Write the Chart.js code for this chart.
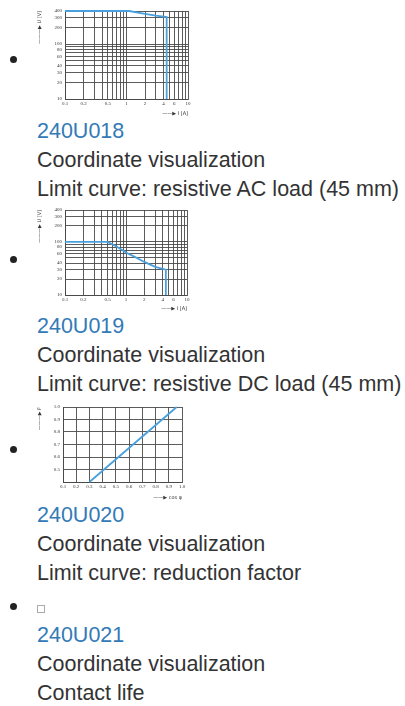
<!DOCTYPE html>
<html>
<head>
<meta charset="utf-8">
<script src="https://cdn.jsdelivr.net/npm/chart.js@4/dist/chart.umd.min.js"></script>
<style>
  body { margin: 0; background: #fff; font-family: "Liberation Sans", Arial, sans-serif; color: #333; }
  ul { list-style: none; margin: 0; padding: 0; }
  li { position: relative; padding-left: 37px; }
  .dot { position: absolute; left: 9.5px; width: 7px; height: 7px; border-radius: 50%; background: #222; }
  .pic { position: relative; }
  .pic canvas { display: block; }
  .line { font-size: 21.5px; line-height: 29px; height: 29px; white-space: nowrap; }
  .code { color: #337ab7; }
  .broken { position: absolute; left: 0; top: 17px; width: 6px; height: 6px; border: 1px solid #aaa; }
</style>
</head>
<body>
<ul>
  <li>
    <span class="dot" style="top:56px"></span>
    <div class="pic" style="height:117px"><canvas id="c1" width="158" height="117"></canvas></div>
    <div class="line code" id="code0"></div>
    <div class="line" id="kind0"></div>
    <div class="line" id="desc0"></div>
  </li>
  <li>
    <span class="dot" style="top:52px"></span>
    <div class="pic" style="height:108px"><canvas id="c2" width="158" height="108"></canvas></div>
    <div class="line code" id="code1"></div>
    <div class="line" id="kind1"></div>
    <div class="line" id="desc1"></div>
  </li>
  <li>
    <span class="dot" style="top:47px"></span>
    <div class="pic" style="height:102px"><canvas id="c3" width="158" height="102"></canvas></div>
    <div class="line code" id="code2"></div>
    <div class="line" id="kind2"></div>
    <div class="line" id="desc2"></div>
  </li>
  <li>
    <span class="dot" style="top:15px"></span>
    <div class="pic" style="height:33px"><span class="broken"></span></div>
    <div class="line code" id="code3"></div>
    <div class="line" id="kind3"></div>
    <div class="line" id="desc3"></div>
  </li>
</ul>
<script>
// texts under each picture
const codes = ['240U018', '240U019', '240U020', '240U021'];
const kinds = ['Coordinate visualization', 'Coordinate visualization', 'Coordinate visualization', 'Coordinate visualization'];
const descs = ['Limit curve: resistive AC load (45 mm)', 'Limit curve: resistive DC load (45 mm)', 'Limit curve: reduction factor', 'Contact life'];

// limit curve, AC load: current (A) / voltage (V)
const acCurrent = [0.1, 1.1, 2, 3, 4.5, 4.5];
const acVoltage = [400, 400, 355, 330, 310, 10];

// limit curve, DC load
const dcCurrent = [0.1, 0.5, 0.7, 1, 1.5, 2, 3, 4.5, 4.5];
const dcVoltage = [100, 100, 82, 63, 50, 42, 34, 30, 10];

// reduction factor F against cos phi
const cosPhi = [0.3, 0.96];
const factorF = [0.4, 1.0];

// tick labels
const logXLabels = ['0.1', '0.2', '0.5', '1', '2', '4', '6', '10'];
const logYLabels = ['10', '20', '30', '40', '60', '80', '100', '200', '300', '400'];
const linXLabels = ['0.1', '0.2', '0.3', '0.4', '0.5', '0.6', '0.7', '0.8', '0.9', '1.0'];
const linYLabels = ['0.5', '0.6', '0.7', '0.8', '0.9', '1.0'];

for (let i = 0; i < codes.length; i++) {
  document.getElementById('code' + i).textContent = codes[i];
  document.getElementById('kind' + i).textContent = kinds[i];
  document.getElementById('desc' + i).textContent = descs[i];
}

const lineBlue = 'rgb(72,160,222)';
const gridCol = '#4a4a4a';
const tickFont = { family: 'Liberation Serif', size: 5 };
const titleFont = { family: 'DejaVu Sans', size: 5 };

// grid values of log paper: 1..9 x 10^n
function logGrid(from, to) {
  const out = [];
  for (let d = from; d < to; d *= 10) {
    for (let k = 1; k < 10; k++) {
      const v = +(k * d).toPrecision(3);
      if (v >= from && v <= to) out.push(v);
    }
  }
  if (out[out.length - 1] !== to) out.push(to);
  return out;
}

function pickLabel(list, v) {
  const hit = list.find(t => Math.abs(parseFloat(t) - v) < 1e-6 * Math.max(1, v));
  return hit === undefined ? '' : hit;
}

function makeChart(id, xs, ys, o) {
  const pts = xs.map((x, i) => ({ x: x, y: ys[i] }));
  const xGrid = o.log ? logGrid(0.1, 10) : null;
  const yGrid = o.log ? logGrid(10, 400) : null;
  new Chart(document.getElementById(id), {
    type: 'scatter',
    data: { datasets: [{ data: pts, showLine: true, borderColor: lineBlue, borderWidth: 1.8, pointRadius: 0, tension: 0, clip: 3 }] },
    options: {
      responsive: false,
      animation: false,
      layout: { padding: { top: o.padTop, right: o.padRight, left: 0, bottom: 0 } },
      plugins: { legend: { display: false }, tooltip: { enabled: false } },
      scales: {
        x: {
          type: o.log ? 'logarithmic' : 'linear',
          min: o.xMin, max: o.xMax,
          afterBuildTicks: s => { if (xGrid) s.ticks = xGrid.map(v => ({ value: v })); },
          afterFit: s => { s.height = o.xAxisH; },
          grid: { color: gridCol, lineWidth: 0.9, drawTicks: false },
          border: { color: gridCol, width: 0.9 },
          ticks: { autoSkip: false, maxRotation: 0, padding: 2, stepSize: o.log ? undefined : 0.1, font: tickFont, color: '#333',
                   callback: v => pickLabel(o.xLabels, v) },
          title: { display: true, text: o.xTitle, align: 'end', font: titleFont, color: '#333', padding: { top: 1, bottom: 0 } }
        },
        y: {
          type: o.log ? 'logarithmic' : 'linear',
          min: o.yMin, max: o.yMax,
          afterBuildTicks: s => { if (yGrid) s.ticks = yGrid.map(v => ({ value: v })); },
          afterFit: s => { s.width = o.yAxisW; },
          grid: { color: gridCol, lineWidth: 0.9, drawTicks: false },
          border: { color: gridCol, width: 0.9 },
          ticks: { autoSkip: false, padding: 3, stepSize: o.log ? undefined : 0.1, font: tickFont, color: '#333',
                   callback: v => pickLabel(o.yLabels, v) },
          title: { display: true, text: o.yTitle, align: 'end', font: titleFont, color: '#333', padding: 0 }
        }
      }
    }
  });
}

makeChart('c1', acCurrent, acVoltage, {
  log: true, xMin: 0.1, xMax: 10, yMin: 10, yMax: 400,
  padTop: 11, padRight: 7, xAxisH: 18, yAxisW: 28,
  xLabels: logXLabels, yLabels: logYLabels, xTitle: '——▶ I [A]', yTitle: '———▶ U [V]'
});
makeChart('c2', dcCurrent, dcVoltage, {
  log: true, xMin: 0.1, xMax: 10, yMin: 10, yMax: 400,
  padTop: 4, padRight: 8, xAxisH: 17, yAxisW: 28,
  xLabels: logXLabels, yLabels: logYLabels, xTitle: '——▶ I [A]', yTitle: '———▶ U [V]'
});
makeChart('c3', cosPhi, factorF, {
  log: false, xMin: 0.1, xMax: 1.0, yMin: 0.4, yMax: 1.0,
  padTop: 8, padRight: 13, xAxisH: 19, yAxisW: 26,
  xLabels: linXLabels, yLabels: linYLabels, xTitle: '——▶ cos φ', yTitle: '———▶ F'
});
</script>
</body>
</html>
